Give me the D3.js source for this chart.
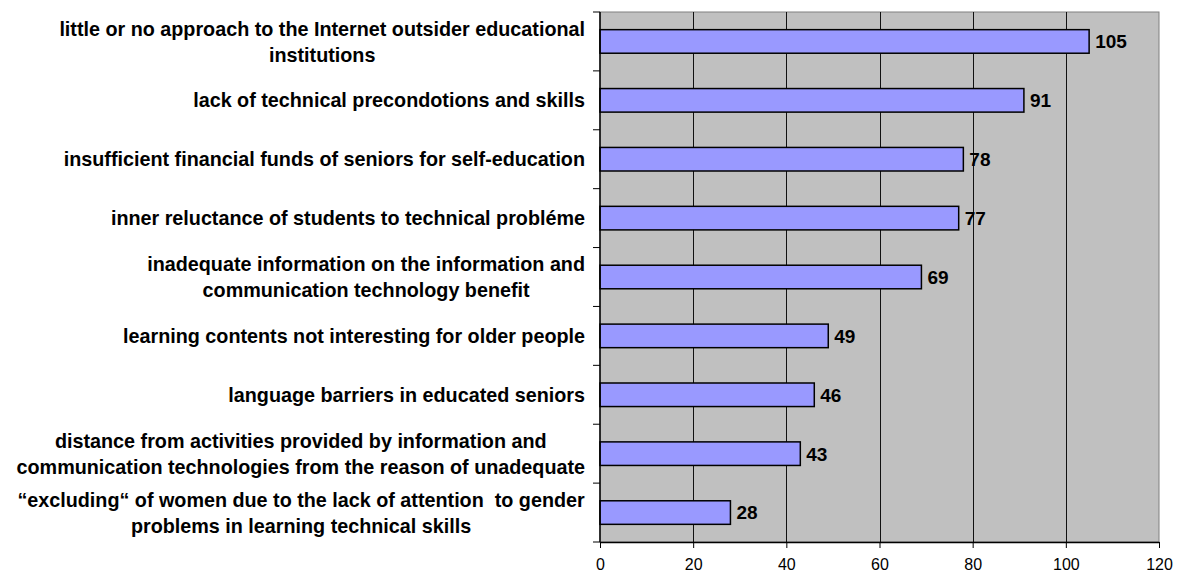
<!DOCTYPE html>
<html>
<head>
<meta charset="utf-8">
<script src="https://cdn.jsdelivr.net/npm/d3@7"></script>
<style>
  body { margin: 0; background: #fff; }
  svg { display: block; font-family: "Liberation Sans", Arial, sans-serif; }
</style>
</head>
<body>
<svg id="svg"></svg>
<script>
// categories top to bottom, each label split into its lines
let categories = [
    ["little or no approach to the Internet outsider educational", "institutions"],
    ["lack of technical precondotions and skills"],
    ["insufficient financial funds of seniors for self-education"],
    ["inner reluctance of students to technical probléme"],
    ["inadequate information on the information and", "communication technology benefit"],
    ["learning contents not interesting for older people"],
    ["language barriers in educated seniors"],
    ["distance from activities provided by information and", "communication technologies from the reason of unadequate"],
    ["\u201cexcluding\u201c of women due to the lack of attention  to gender", "problems in learning technical skills"]
];
let values = [105, 91, 78, 77, 69, 49, 46, 43, 28];
let xTicks = [0, 20, 40, 60, 80, 100, 120];

const width = 1179;
const height = 574;
const margin = { top: 12, left: 600 };

let svg = d3.select("#svg").attr("width", width).attr("height", height);

let chartWidth = 1159 - margin.left;
let chartHeight = 542 - margin.top;

let chart = svg.append("g")
    .attr("transform", "translate(" + margin.left + "," + margin.top + ")");

let ids = categories.map((c, i) => i);

let xScale = d3.scaleLinear().domain([0, 120]).range([0, chartWidth]);
let yScale = d3.scaleBand().domain(ids).range([0, chartHeight]).paddingInner(0.6).paddingOuter(0.3);
let yBand = d3.scaleBand().domain(ids).range([0, chartHeight]);

// plot background
chart.append("rect")
    .attr("width", chartWidth)
    .attr("height", chartHeight)
    .attr("fill", "#c0c0c0")
    .attr("stroke", "#808080");

// vertical grid lines
chart.selectAll(".grid")
    .data(xTicks.slice(1, -1))
    .enter().append("line")
    .attr("x1", d => Math.round(xScale(d)) + 0.5)
    .attr("x2", d => Math.round(xScale(d)) + 0.5)
    .attr("y1", 0)
    .attr("y2", chartHeight)
    .attr("stroke", "#111")
    .attr("stroke-width", 1);

// bars
chart.selectAll(".bar")
    .data(values)
    .enter().append("rect")
    .attr("x", 0)
    .attr("y", (d, i) => yScale(i))
    .attr("width", d => xScale(d))
    .attr("height", yScale.bandwidth())
    .attr("fill", "#9999ff")
    .attr("stroke", "#000")
    .attr("stroke-width", 1.5);

// value labels
chart.selectAll(".val")
    .data(values)
    .enter().append("text")
    .attr("x", d => xScale(d) + 6)
    .attr("y", (d, i) => yScale(i) + yScale.bandwidth() / 2)
    .attr("dy", "0.36em")
    .style("font-size", "19px")
    .style("font-weight", "bold")
    .text(d => d);

// x axis
let xAxis = chart.append("g")
    .attr("transform", `translate(0,${chartHeight})`)
    .call(d3.axisBottom(xScale).tickValues(xTicks).tickSize(6).tickSizeOuter(0).tickPadding(11));
xAxis.select(".domain").attr("stroke", "#000").attr("stroke-width", 1.5);
xAxis.selectAll("text").style("font-size", "16px").style("font-family", "Liberation Sans, Arial, sans-serif");

// y axis line with ticks at band boundaries
chart.append("line")
    .attr("x1", 0).attr("x2", 0)
    .attr("y1", 0).attr("y2", chartHeight)
    .attr("stroke", "#000").attr("stroke-width", 1.5);
chart.selectAll(".ytick")
    .data(ids.concat([ids.length]))
    .enter().append("line")
    .attr("x1", -7).attr("x2", 0)
    .attr("y1", d => d < ids.length ? yBand(d) : chartHeight)
    .attr("y2", d => d < ids.length ? yBand(d) : chartHeight)
    .attr("stroke", "#000");

// category labels
let labels = chart.selectAll(".cat")
    .data(categories)
    .enter().append("text")
    .attr("text-anchor", "middle")
    .style("font-size", "19.75px")
    .style("font-weight", "bold")
    .attr("transform", (d, i) => `translate(0,${yBand(i) + yBand.bandwidth() / 2})`);

labels.each(function(lines) {
    let t = d3.select(this);
    let n = lines.length;
    lines.forEach((line, k) => {
        t.append("tspan")
            .attr("x", 0)
            .attr("y", (k - (n - 1) / 2) * 26)
            .attr("dy", "0.36em")
            .style("white-space", "pre")
            .text(line);
    });
});

// right-align the label block, centring lines within it
labels.each(function() {
    let box = this.getBBox();
    let shift = -15 - (box.x + box.width);
    d3.select(this).selectAll("tspan").attr("x", shift);
});
</script>
</body>
</html>
